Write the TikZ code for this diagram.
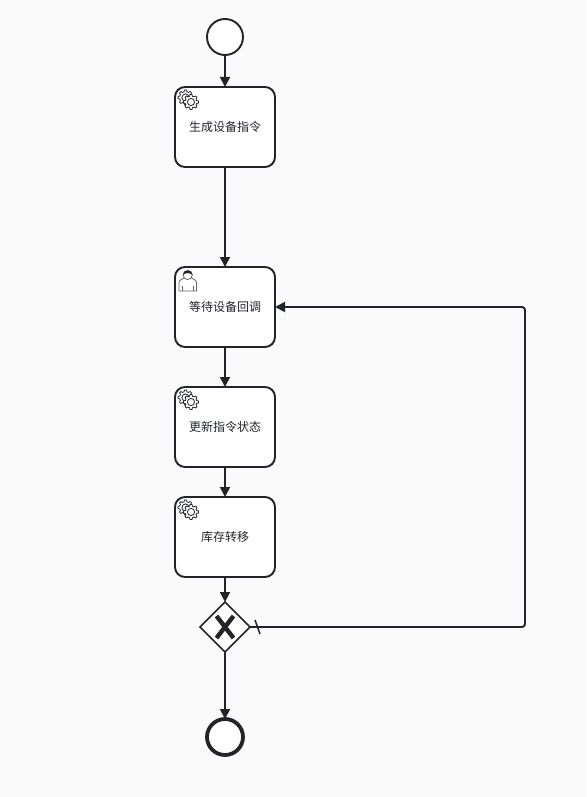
\documentclass[tikz,border=0pt]{standalone}
\usepackage{fontspec}
\newfontfamily\cjk{Noto Sans CJK SC}
\usepackage{xcolor}
\usepackage{tikz}
\usetikzlibrary{positioning,arrows.meta,shapes.geometric}
\definecolor{inkc}{HTML}{22242A}
\definecolor{pagec}{HTML}{FAFAFA}
\tikzset{
  task/.style   ={draw=inkc, rectangle, rounded corners=10pt, fill=white, line width=1.9pt, minimum height=80pt, minimum width=100pt, outer sep=0pt, inner sep=0pt, align=center, text=inkc, font=\cjk\fontsize{12}{14}\selectfont},
  startev/.style={draw=inkc, circle, fill=white, line width=1.9pt, minimum size=36pt, inner sep=0pt, outer sep=0pt},
  endev/.style  ={draw=inkc, circle, fill=white, line width=3.8pt, minimum size=36pt, inner sep=0pt, outer sep=0pt},
  gway/.style   ={draw=inkc, diamond, aspect=1, fill=white, line width=1.5pt, minimum size=50pt, inner sep=0pt, outer sep=0pt},
  arr/.style    ={-{Triangle[length=10pt,width=10pt]}, draw=inkc, line width=1.9pt},
  icon/.style   ={draw=inkc, line width=.8pt, fill=white},
  xmark/.style  ={draw=inkc, line width=4.4pt},
  tick/.style   ={draw=inkc, line width=1.5pt},
  gearicon/.pic ={
    \foreach \cx/\cy/\ro/\ri in {10.5/10.5/7.5/5.8, 16/15/7.5/5.8} {
      \draw[icon] plot[samples=49, domain=0:360, smooth cycle] ({\cx+(mod(\x+7.5,45)<22.5 ? \ro : \ri)*cos(\x)},{\cy+(mod(\x+7.5,45)<22.5 ? \ro : \ri)*sin(\x)});
      \draw[icon] (\cx,\cy) circle[radius=3.6pt];
    }
  },
  usericon/.pic ={
    \draw[icon, draw=inkc!70] (4,24) -- (4,15.5) .. controls (4,12.5) and (8.5,12) .. (10,10) -- (15.5,10) .. controls (17,12) and (21.5,12.5) .. (21.5,15.5) -- (21.5,24) -- cycle;
    \draw[icon, draw=inkc!70] (7.5,24) -- (7.5,19) (18,24) -- (18,19);
    \draw[icon, draw=inkc!70] (12.7,8) circle[radius=4.6pt];
    \fill[inkc] (8,8) .. controls (7.5,2) and (18,2) .. (17.5,8) .. controls (15.5,5.5) and (10,5.5) .. (8,8) -- cycle;
  },
}
\begin{document}
\begin{tikzpicture}[x=1pt,y=-1pt]
  \fill[pagec] (0,0) rectangle (586,797);
  \useasboundingbox (0,0) rectangle (586,797);

  \node[startev] (start) at (225,37) {};
  \node[task, below=32pt of start] (gen) {生成设备指令};
  \node[task, below=100pt of gen] (wait) {等待设备回调};
  \node[task, below=40pt of wait] (upd) {更新指令状态};
  \node[task, below=30pt of upd] (stock) {库存转移};
  \node[gway, below=25pt of stock] (gw) {};
  \node[endev, below=67pt of gw] (finish) {};

  % task markers
  \pic at (gen.north west) {gearicon};
  \pic at (wait.north west) {usericon};
  \pic at (upd.north west) {gearicon};
  \pic at (stock.north west) {gearicon};

  % gateway cross
  \draw[xmark] ([shift={(-8.5,-11)}]gw.center) -- ([shift={(8.5,11)}]gw.center);
  \draw[xmark] ([shift={(8.5,-11)}]gw.center) -- ([shift={(-8.5,11)}]gw.center);

  \draw[arr] (start) -- (gen);
  \draw[arr] (gen) -- (wait);
  \draw[arr] (wait) -- (upd);
  \draw[arr] (upd) -- (stock);
  \draw[arr] (stock) -- (gw);
  \draw[arr] (gw) -- (finish);

  % loop back
  \coordinate (loopa) at (525,627);
  \coordinate (loopb) at (525,307);
  \draw[arr, rounded corners=3pt] (gw) -- (loopa) -- (loopb) -- (wait);
  \draw[tick] ([shift={(30,-7)}]gw.center) -- ([shift={(35,7)}]gw.center);
\end{tikzpicture}
\end{document}
